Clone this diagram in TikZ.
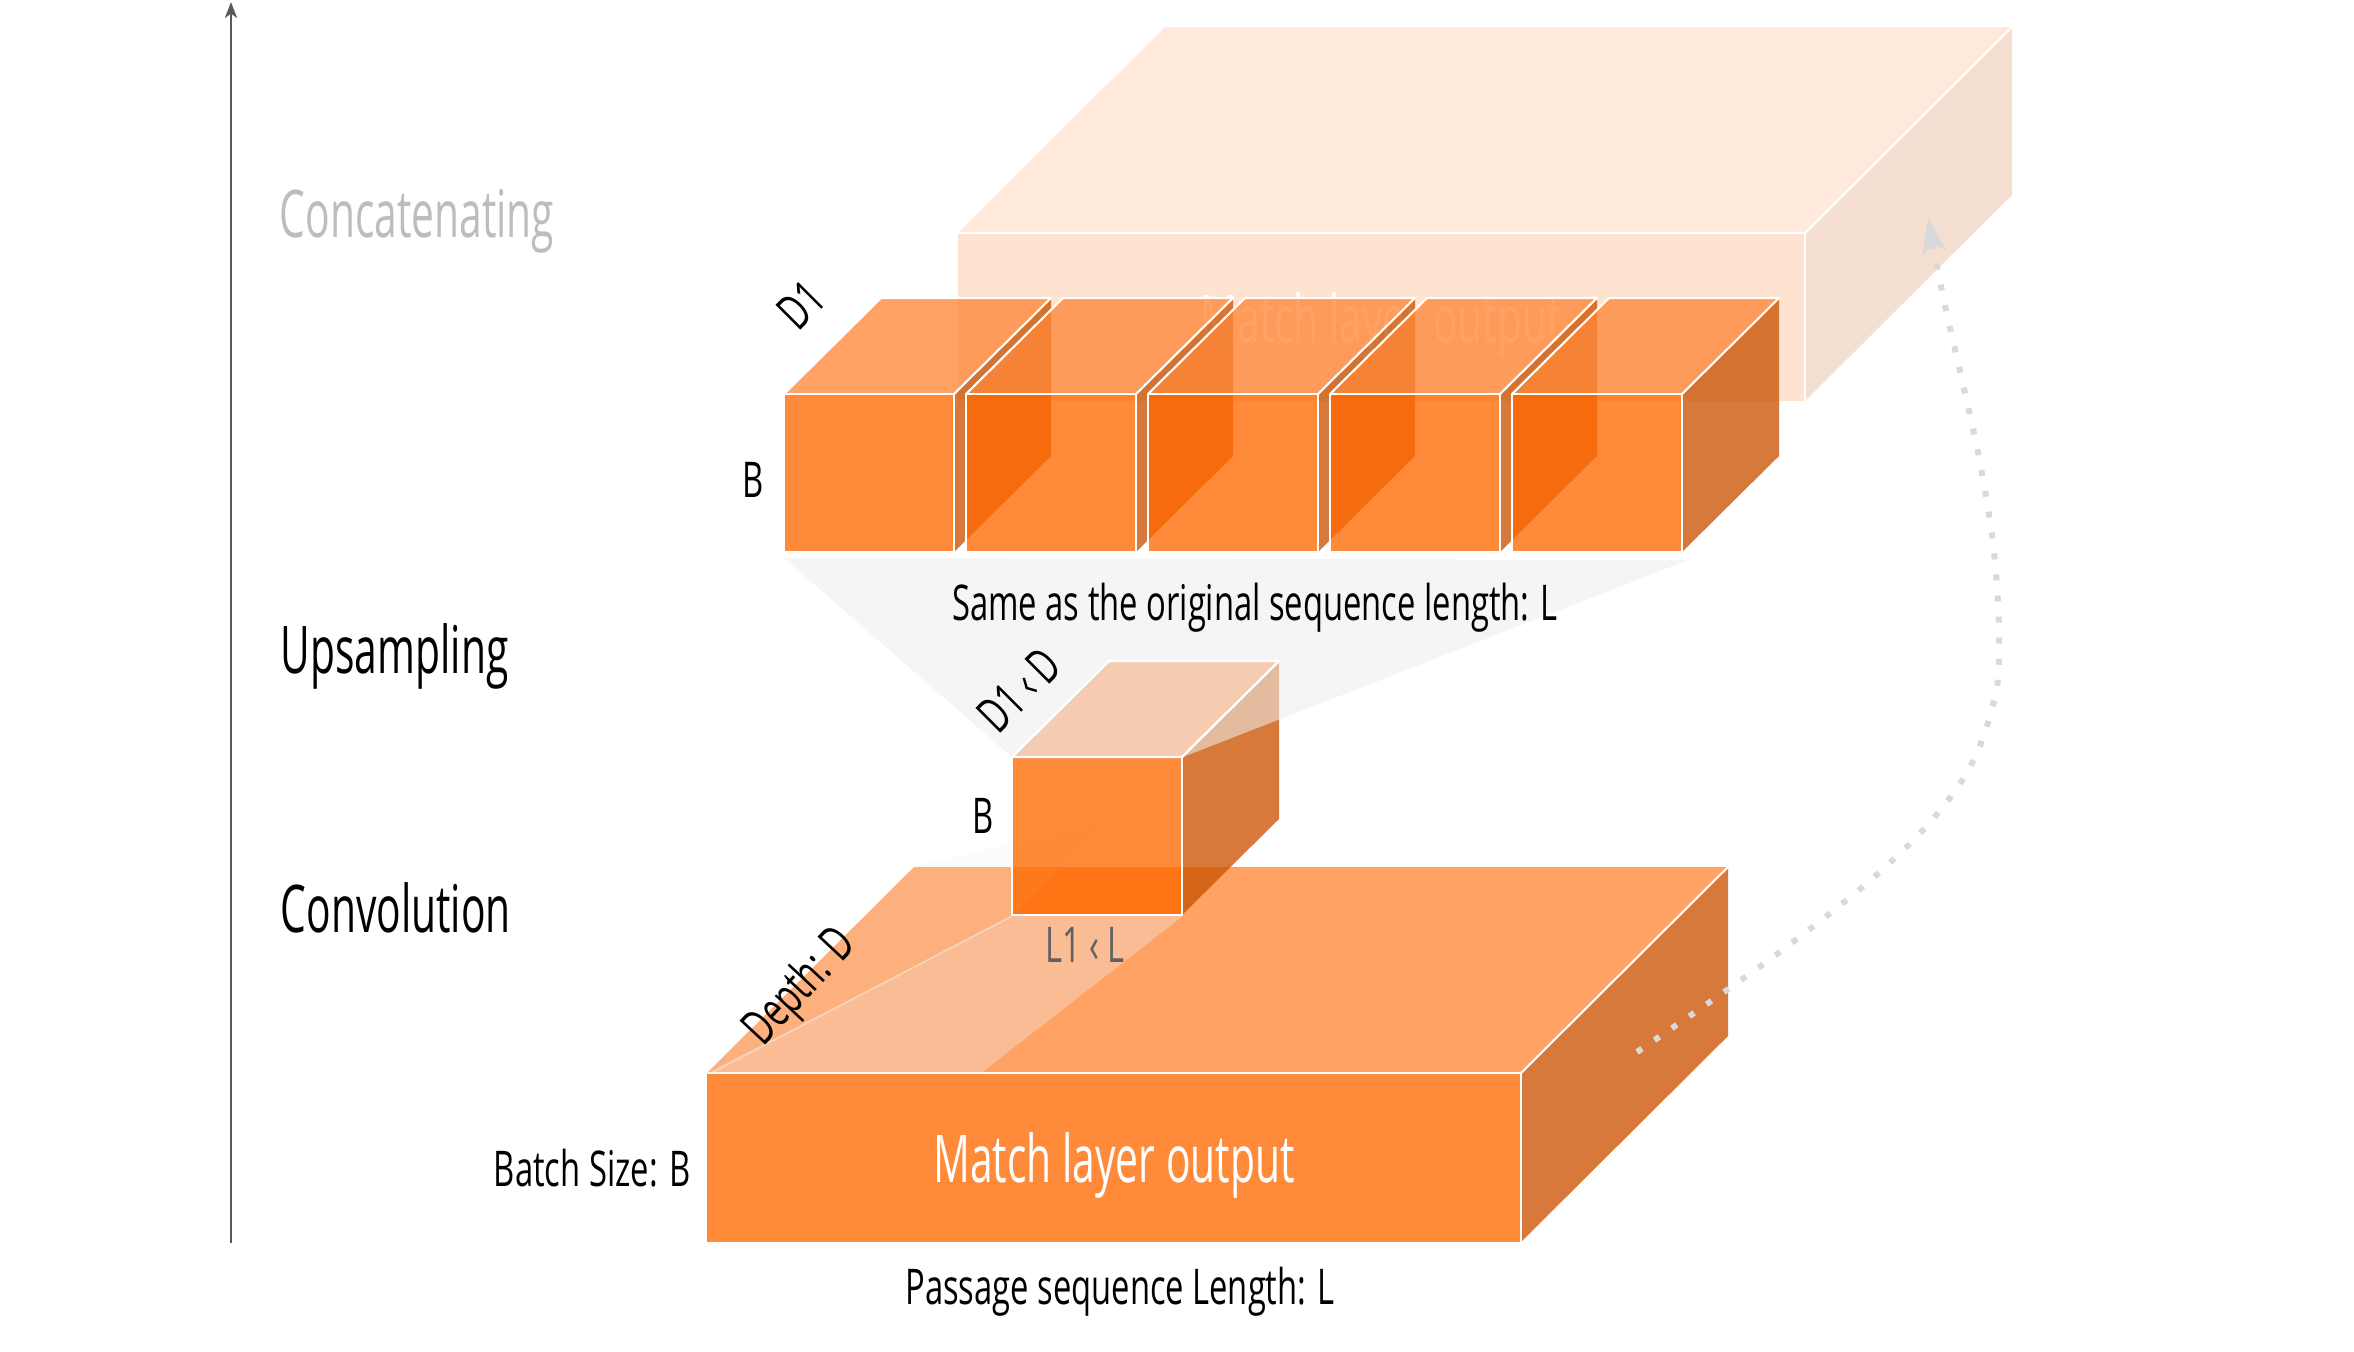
\documentclass[tikz,border=0pt]{standalone}
\usepackage{fontspec}
\setmainfont{Open Sans}[FakeStretch=0.62]
\newfontfamily\midfont{Open Sans}[FakeStretch=0.665]
\usetikzlibrary{arrows.meta}
\definecolor{frontc}{RGB}{255,104,0}
\definecolor{topc}{RGB}{255,135,55}
\definecolor{sidec}{RGB}{202,82,0}
\definecolor{projgray}{RGB}{238,238,238}
\definecolor{dotgray}{RGB}{217,217,217}
\definecolor{axisgray}{RGB}{90,90,90}
\definecolor{labgray}{RGB}{189,189,189}
\definecolor{lgray}{RGB}{96,96,96}
\tikzset{
  fface/.style={fill=frontc, fill opacity=#1},
  tface/.style={fill=topc, fill opacity=#1},
  sface/.style={fill=sidec, fill opacity=#1},
  edge/.style={draw=white, line width=0.6pt, line join=round},
  biglab/.style={font=\fontsize{18.7}{22}\selectfont, inner sep=0pt},
  midlab/.style={font=\midfont\fontsize{14}{17}\selectfont, inner sep=0pt},
  axisline/.style={draw=axisgray, line width=0.85pt, -{Stealth[length=4.5pt,width=3.4pt,inset=1.2pt]}},
  dotline/.style={draw=dotgray, line width=1.7pt, dash pattern=on 1.7pt off 4.3pt,
     -{Stealth[length=10pt,width=7pt,inset=2.5pt,fill=dotgray]}},
}
% small cube: front top-left corner (#1,#2), w=170, h=158, depth (97,-96)
\newcommand{\ucube}[2]{%
  \fill[sface=0.774] (#1+170,#2) -- ++(97,-96) -- ++(0,158) -- ++(-97,96) -- cycle;
  \fill[tface=0.774] (#1,#2) -- ++(97,-96) -- ++(170,0) -- ++(-97,96) -- cycle;
  \fill[fface=0.774] (#1,#2) rectangle ++(170,158);
  \draw[edge] (#1,#2) rectangle ++(170,158);
  \draw[edge] (#1,#2) -- ++(97,-96) -- ++(170,0) -- ++(-97,96);
}
% big box: front top-left (#1,#2), width #3, height #4, opacity #5, depth (207,-206)
\newcommand{\bigslab}[5]{%
  \fill[sface=#5] (#1+#3,#2) -- ++(207,-206) -- ++(0,#4) -- ++(-207,206) -- cycle;
  \fill[tface=#5] (#1,#2) -- ++(207,-206) -- ++(#3,0) -- ++(-207,206) -- cycle;
  \fill[fface=#5] (#1,#2) rectangle ++(#3,#4);
  \draw[edge] (#1,#2) -- ++(#3,0) -- ++(0,#4);
  \draw[edge] (#1+#3,#2) -- ++(207,-206);
}
\begin{document}
\begin{tikzpicture}[x=0.01cm, y=-0.01cm]
\fill[white] (0,0) rectangle (2354,1351);
\useasboundingbox (0,0) rectangle (2354,1351);

% vertical axis
\coordinate (axbot) at (231,1243);
\coordinate (axtop) at (231,2);
\draw[axisline] (axbot) -- (axtop);

% pale concatenated box
\bigslab{958}{233}{847}{168}{0.18}
\node[biglab, text=white, anchor=base] (palelab) at (1381,342) {Match layer output};

% row of upsampled cubes
\ucube{784}{394}
\ucube{966}{394}
\ucube{1148}{394}
\ucube{1330}{394}
\ucube{1512}{394}

% bottom match layer output box
\bigslab{707}{1073}{814}{169}{0.774}
\node[biglab, text=white, anchor=base] (matchlab) at (1114,1182) {Match layer output};

% convolution projection
\fill[projgray, fill opacity=0.19] (707,1073) -- (914,867) -- (1109,820) -- (1012,916) -- cycle;
\fill[projgray, fill opacity=0.35] (707,1073) -- (981,1073) -- (1183,916) -- (1012,916) -- cycle;
\draw[white, opacity=0.35, line width=0.5pt] (711,1073) -- (1012,916);

% convolved cube
\ucube{1012}{757}

% upsampling projection
\fill[projgray, fill opacity=0.565] (784,558) -- (1688,560) -- (1183,757) -- (1012,757) -- cycle;
\draw[edge] (1012,757) -- ++(97,-96) -- ++(170,0) -- ++(-97,96) -- cycle;

% stage labels
\node[biglab, text=labgray, anchor=base west] (concat) at (279,237) {Concatenating};
\node[biglab, text=black, anchor=base west] (upsamp) at (280,673) {Upsampling};
\node[biglab, text=black, anchor=base west] (conv) at (280,932) {Convolution};

% dimension labels
\node[midlab, anchor=base east] (batch) at (691,1186) {Batch Size: B};
\node[midlab, anchor=base] (passage) at (1120,1304) {Passage sequence Length: L};
\node[midlab, anchor=base] (same) at (1255,620) {Same as the original sequence length: L};
\node[midlab, rotate=47] (depth) at (801,988) {Depth: D};
\node[midlab, rotate=45] (d1) at (801,305) {D1};
\node[midlab, anchor=base] (brow) at (753,497) {B};
\node[midlab, rotate=45] (d1d) at (1019,690) {D1 ‹ D};
\node[midlab, anchor=base] (bcube) at (983,833) {B};
\node[midlab, text=lgray, anchor=base] (l1l) at (1085,962) {L1 ‹ L};

% dotted skip connection
\coordinate (dstart) at (1637,1052);
\coordinate (dend) at (1928,218);
\draw[dotline] plot[smooth, tension=0.6] coordinates {(dstart) (1777,954) (1893,860) (1963,779) (1994,701) (1999,637) (1994,552) (1981,468) (1963,384) (1944,301) (dend)};
\end{tikzpicture}
\end{document}
